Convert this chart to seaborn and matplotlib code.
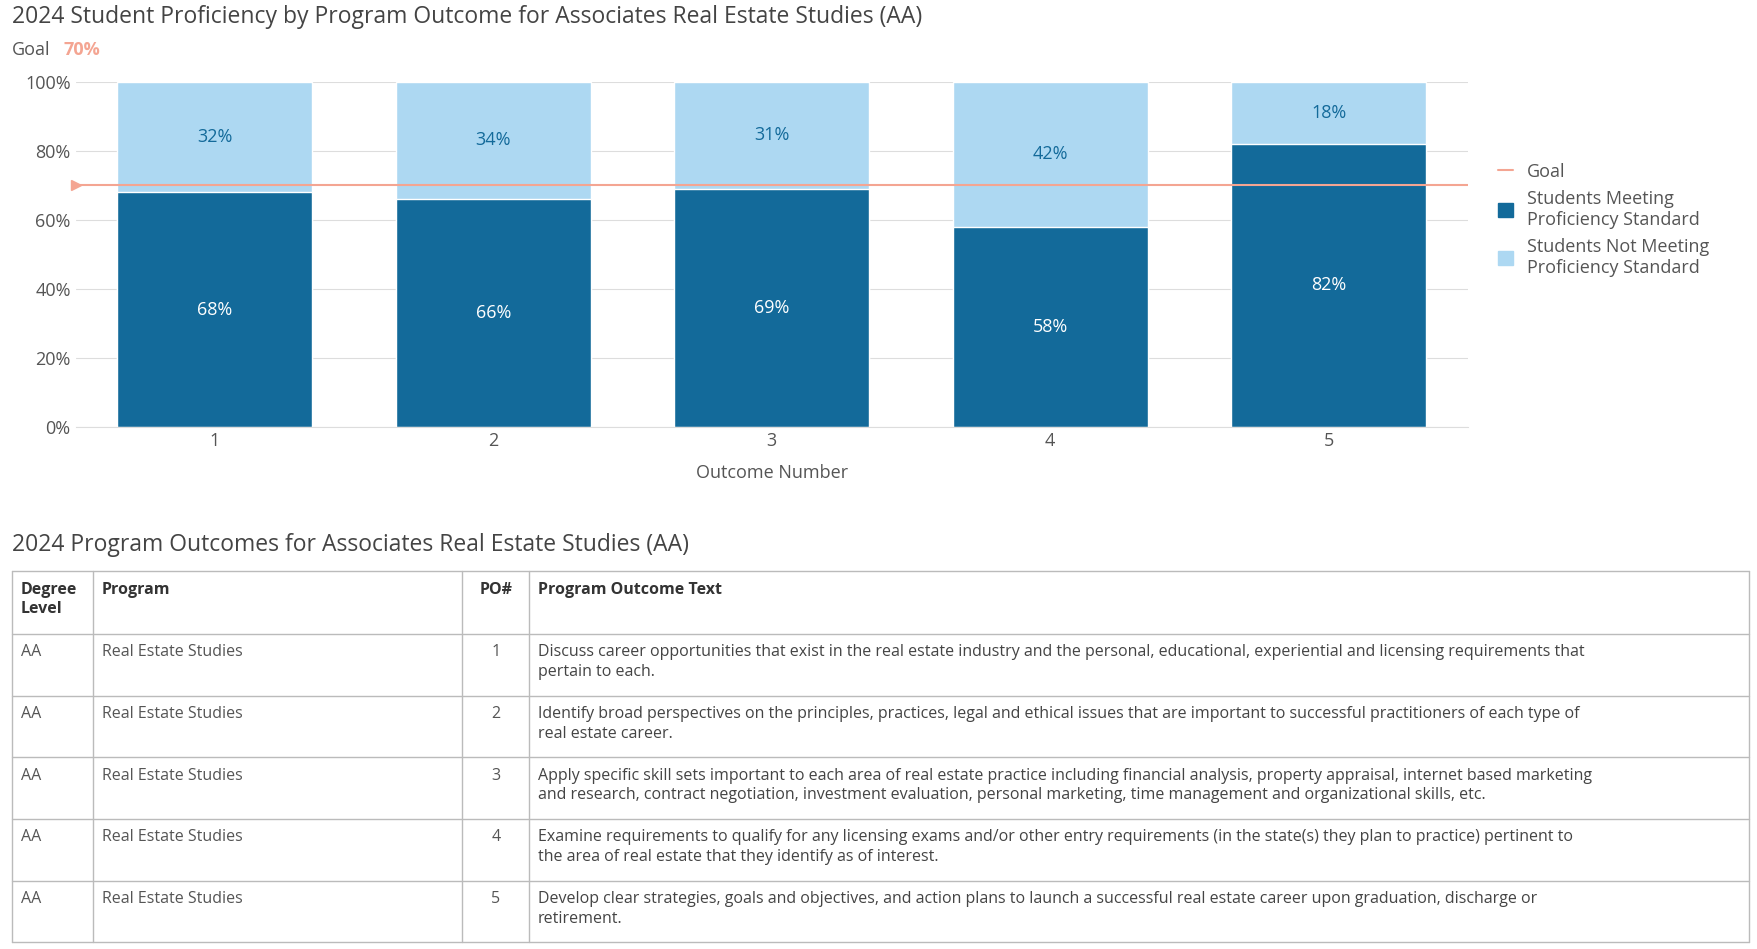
import matplotlib.pyplot as plt
import seaborn as sns
import pandas as pd

outcomes = ["1", "2", "3", "4", "5"]
meeting = [68, 66, 69, 58, 82]
not_meeting = [32, 34, 31, 42, 18]
goal = 70

degree = ["AA"] * 5
program = ["Real Estate Studies"] * 5
po_text = [
    "Discuss career opportunities that exist in the real estate industry and the personal, educational, experiential and licensing requirements that\npertain to each.",
    "Identify broad perspectives on the principles, practices, legal and ethical issues that are important to successful practitioners of each type of\nreal estate career.",
    "Apply specific skill sets important to each area of real estate practice including financial analysis, property appraisal, internet based marketing\nand research, contract negotiation, investment evaluation, personal marketing, time management and organizational skills, etc.",
    "Examine requirements to qualify for any licensing exams and/or other entry requirements (in the state(s) they plan to practice) pertinent to\nthe area of real estate that they identify as of interest.",
    "Develop clear strategies, goals and objectives, and action plans to launch a successful real estate career upon graduation, discharge or\nretirement.",
]

sns.set_style("white")
plt.rcParams["font.family"] = ["Open Sans", "DejaVu Sans"]

dark = "#136a9a"
light = "#add8f2"
goal_c = "#f4a592"
grey = "#555555"

df = pd.DataFrame({"outcome": outcomes, "meeting": meeting, "not": not_meeting})
df["total"] = df["meeting"] + df["not"]

fig = plt.figure(figsize=(17.58, 9.49), dpi=100)
ax = fig.add_axes([0.043, 0.55, 0.792, 0.364])

sns.barplot(data=df, x="outcome", y="total", color=light, width=0.7, saturation=1, ax=ax)
sns.barplot(data=df, x="outcome", y="meeting", color=dark, width=0.7, saturation=1, ax=ax)
for i, (m, n) in enumerate(zip(meeting, not_meeting)):
    ax.text(i, m / 2, f"{m}%", ha="center", va="center", color="white", fontsize=13)
    ax.text(i, m + n / 2, f"{n}%", ha="center", va="center", color=dark, fontsize=13)

ax.axhline(goal, color=goal_c, lw=1.5, label="Goal")
ax.plot([-0.5], [goal], marker=">", color=goal_c, ms=7, clip_on=False)
ax.set_xlim(-0.5, 4.5)
ax.set_ylim(0, 100)
ax.set_yticks([0, 20, 40, 60, 80, 100])
ax.set_yticklabels([f"{v}%" for v in range(0, 101, 20)])
ax.yaxis.grid(True, color="#dddddd")
ax.set_axisbelow(True)
for s in ["top", "right", "left"]:
    ax.spines[s].set_visible(False)
ax.spines["bottom"].set_color("#dddddd")
ax.tick_params(colors=grey, labelsize=13, length=0)
ax.set_xlabel("Outcome Number", fontsize=13, color=grey, labelpad=10)
ax.set_ylabel("")

from matplotlib.patches import Patch
from matplotlib.lines import Line2D
handles = [Line2D([0], [0], color=goal_c, lw=1.5),
           Patch(color=dark), Patch(color=light)]
ax.legend(handles, ["Goal", "Students Meeting\nProficiency Standard",
                    "Students Not Meeting\nProficiency Standard"],
          loc="center left", bbox_to_anchor=(1.01, 0.6), frameon=False,
          fontsize=13, labelcolor=grey, handlelength=0.8, handleheight=0.8)

fig.text(0.007, 0.982, "2024 Student Proficiency by Program Outcome for Associates Real Estate Studies (AA)",
         fontsize=16.5, color="#444444", va="center")
fig.text(0.007, 0.947, "Goal", fontsize=13, color=grey, va="center")
fig.text(0.036, 0.947, f"{goal}%", fontsize=13, color=goal_c, weight="bold", va="center")

fig.text(0.007, 0.426, "2024 Program Outcomes for Associates Real Estate Studies (AA)",
         fontsize=16.5, color="#444444", va="center")

# table
tx = [0.007, 0.053, 0.263, 0.301, 0.995]
top, hdr_h, row_h = 0.398, 0.066, 0.065
line_c = "#bbbbbb"
ys = [top, top - hdr_h] + [top - hdr_h - row_h * (k + 1) for k in range(5)]
for y in ys:
    fig.add_artist(Line2D([tx[0], tx[-1]], [y, y], color=line_c, lw=1, transform=fig.transFigure))
for x in tx:
    fig.add_artist(Line2D([x, x], [ys[0], ys[-1]], color=line_c, lw=1, transform=fig.transFigure))

pad = 0.005
headers = ["Degree\nLevel", "Program", "PO#", "Program Outcome Text"]
for j, h in enumerate(headers):
    if j == 2:
        fig.text((tx[2] + tx[3]) / 2, top - 0.011, h, fontsize=11.5, weight="bold",
                 color="#333333", ha="center", va="top", linespacing=1.3)
    else:
        fig.text(tx[j] + pad, top - 0.011, h, fontsize=11.5, weight="bold",
                 color="#333333", va="top", linespacing=1.3)
for k in range(5):
    y = ys[k + 1] - 0.011
    fig.text(tx[0] + pad, y, degree[k], fontsize=11.5, color=grey, va="top")
    fig.text(tx[1] + pad, y, program[k], fontsize=11.5, color=grey, va="top")
    fig.text((tx[2] + tx[3]) / 2, y, outcomes[k], fontsize=11.5, color=grey, va="top", ha="center")
    fig.text(tx[3] + pad, y, po_text[k], fontsize=11.5, color="#444444", va="top", linespacing=1.3)

fig.savefig("out.png", dpi=100)
